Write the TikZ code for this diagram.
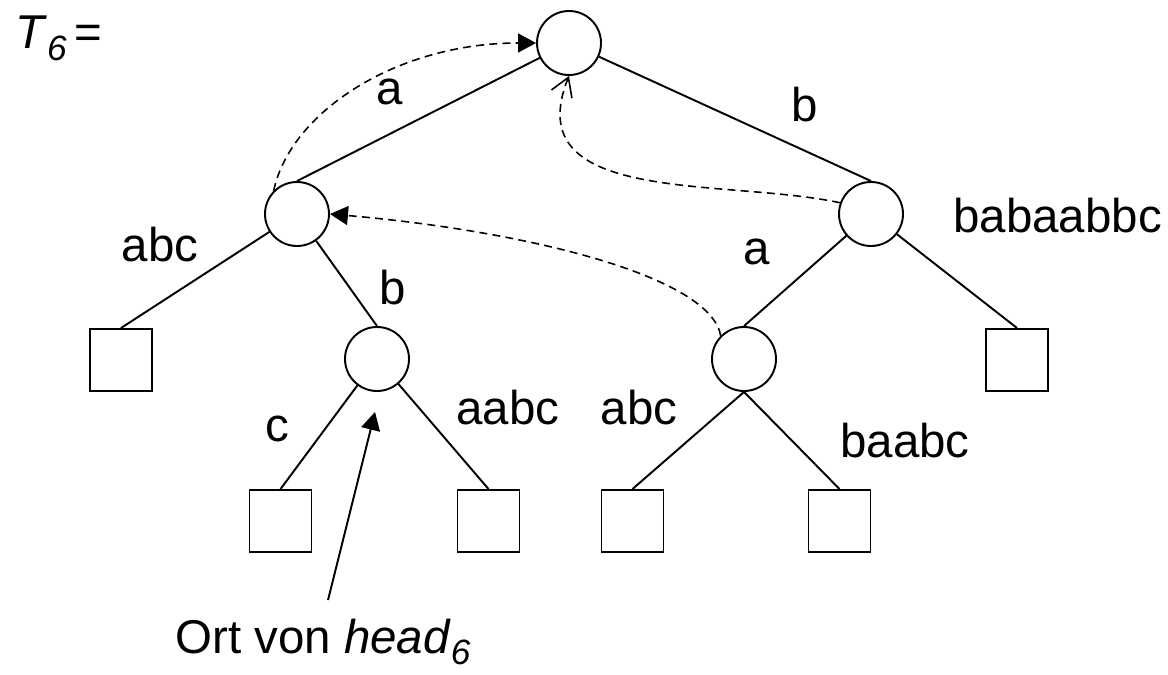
\documentclass[tikz,border=0pt]{standalone}
\usepackage{fontspec}
\setmainfont{Liberation Sans}
\usetikzlibrary{arrows.meta}
\newcommand{\lowidx}[1]{\raisebox{-0.25em}{\fontsize{20}{20}\selectfont\itshape #1}}

\begin{document}
\begin{tikzpicture}[x=1cm,y=1cm,
    knot/.style={draw,circle,line width=1.1pt,minimum size=1.28cm,inner sep=0pt},
    leaf/.style={draw,rectangle,line width=1.1pt,minimum size=1.24cm,inner sep=0pt},
    lab/.style={anchor=base,inner sep=0pt,font=\fontsize{27}{32}\selectfont},
    link/.style={line width=1.1pt},
    back/.style={line width=0.9pt,dash pattern=on 4.5pt off 3pt},
    fulltip/.style={-{Triangle[length=0.36cm,width=0.38cm]}},
    opentip/.style={-{Straight Barb[length=0.36cm,width=0.44cm,line width=0.9pt]}}]
      \useasboundingbox (0,0) rectangle (23.36,13.48);
      % inner nodes
      \node[knot] (root) at (11.38,12.62) {};
      \node[knot] (L)  at (5.94,9.20) {};
      \node[knot] (R)  at (17.42,9.20) {};
      \node[knot] (LR) at (7.54,6.30) {};
      \node[knot] (RL) at (14.88,6.30) {};
      % leaves
      \node[leaf] (LL) at (2.42,6.28) {};
      \node[leaf] (RR) at (20.34,6.28) {};
      \node[leaf] (B1) at (5.61,3.06) {};
      \node[leaf] (B2) at (9.77,3.06) {};
      \node[leaf] (B3) at (12.65,3.06) {};
      \node[leaf] (B4) at (16.79,3.06) {};
      % edges
      \draw[link] (root) -- (L.north); \draw[link] (root) -- (R.north);
      \draw[link] (L) -- (LL.north);   \draw[link] (L) -- (LR.north);
      \draw[link] (R) -- (RL.north);   \draw[link] (R) -- (RR.north);
      \draw[link] (LR) -- (B1.north);  \draw[link] (LR) -- (B2.north);
      \draw[link] (RL.south) -- (B3.north); \draw[link] (RL.south) -- (B4.north);
      % edge labels
      \node[lab] (la1) at (7.80,11.38) {a};
      \node[lab] (lb1) at (16.10,11.04) {b};
      \node[lab] (labc1) at (3.20,8.24) {abc};
      \node[lab] (lb2) at (7.86,7.38) {b};
      \node[lab] (la2) at (15.14,8.18) {a};
      \node[lab,anchor=base west] (lbab) at (19.06,8.82) {babaabbc};
      \node[lab] (lc) at (5.54,4.64) {c};
      \node[lab] (laabc) at (10.16,4.98) {aabc};
      \node[lab] (labc2) at (12.78,4.98) {abc};
      \node[lab] (lbaabc) at (18.10,4.32) {baabc};
      % title and head
      \node[lab,anchor=base west] (title) at (0.30,12.50) {\textit{T}\lowidx{6}\,=};
      \node[lab,anchor=base west] (ort) at (3.50,0.42) {Ort von \textit{head}\lowidx{6}};
      \coordinate (headfrom) at (6.56,1.48);
      \coordinate (headpos) at (7.50,5.24);
      \draw[link,fulltip] (headfrom) -- (headpos);
      % suffix links
      \draw[back,fulltip] (L.135) .. controls +(78:1.6) and +(180:2.8) .. (root.west);
      \draw[back,opentip] (R.160) .. controls +(168:2.4) and +(-112:2.8) .. (root.south);
      \draw[back,fulltip] (RL.135) .. controls +(100:1.2) and +(-5:4) .. (L.east);
\end{tikzpicture}
\end{document}
